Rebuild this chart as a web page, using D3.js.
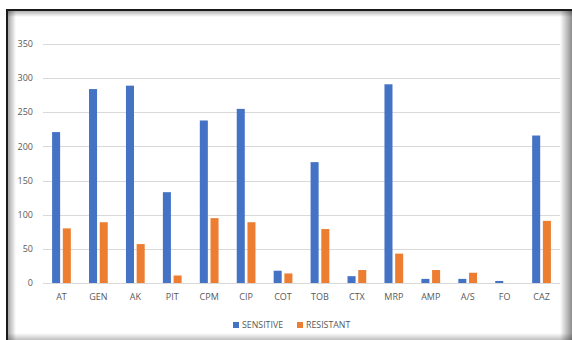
<!DOCTYPE html>
<html>
<head>
<meta charset="utf-8">
<script src="https://cdn.jsdelivr.net/npm/d3@7"></script>
<style>
  html, body { margin: 0; padding: 0; background: #fff; }
  body { width: 572px; height: 340px; overflow: hidden; position: relative; }
  #frame {
    position: absolute; left: 6px; top: 9px; width: 572px; height: 340px;
    border-top: 2px solid #1a1a1a; border-left: 2px solid #1a1a1a;
    box-sizing: border-box;
  }
  svg { position: absolute; left: 0; top: 0; }
</style>
</head>
<body>
<div id="frame"></div>
<svg id="chart" width="572" height="340"></svg>
<script>
// Antibiotic susceptibility counts
const categories = ["AT", "GEN", "AK", "PIT", "CPM", "CIP", "COT", "TOB", "CTX", "MRP", "AMP", "A/S", "FO", "CAZ"];
const sensitive = [221, 284, 289, 133, 238, 255, 18, 177, 10, 291, 6, 6, 3, 216];
const resistant = [80, 89, 57, 11, 95, 89, 14, 79, 19, 43, 19, 15, 0, 91];
const seriesNames = ["SENSITIVE", "RESISTANT"];
const yTicks = [0, 50, 100, 150, 200, 250, 300, 350];

const colors = ["#4472c4", "#ed7d31"];
const textColor = "#595959";
const font = "'Open Sans', sans-serif";

const svg = d3.select("#chart");

// Frame shading
const defs = svg.append("defs");
function grad(id, x1, y1, x2, y2, stops) {
  const g = defs.append("linearGradient").attr("id", id)
    .attr("x1", x1).attr("y1", y1).attr("x2", x2).attr("y2", y2);
  stops.forEach(s => g.append("stop").attr("offset", s[0]).attr("stop-color", "#000").attr("stop-opacity", s[1]));
}
grad("shL", 0, 0, 1, 0, [[0, 0.35], [1, 0]]);
grad("shT", 0, 0, 0, 1, [[0, 0.3], [1, 0]]);
grad("shR", 0, 0, 1, 0, [[0, 0], [1, 0.45]]);
grad("shB", 0, 0, 0, 1, [[0, 0], [1, 0.25]]);
svg.append("rect").attr("x", 8).attr("y", 11).attr("width", 8).attr("height", 329).attr("fill", "url(#shL)");
svg.append("rect").attr("x", 8).attr("y", 11).attr("width", 564).attr("height", 6).attr("fill", "url(#shT)");
svg.append("rect").attr("x", 560).attr("y", 11).attr("width", 12).attr("height", 329).attr("fill", "url(#shR)");
svg.append("rect").attr("x", 8).attr("y", 333).attr("width", 564).attr("height", 7).attr("fill", "url(#shB)");

const plot = { left: 43, right: 560, top: 44, bottom: 283 };

const x = d3.scaleBand().domain(categories).range([plot.left, plot.right]);
const x1 = d3.scaleBand().domain(seriesNames).range([0, x.bandwidth()]).paddingInner(0.25).paddingOuter(0.85);
const y = d3.scaleLinear().domain([0, 350]).range([plot.bottom, plot.top]);

// Gridlines
svg.append("g").selectAll("line").data(yTicks).join("line")
  .attr("x1", plot.left).attr("x2", plot.right)
  .attr("y1", d => Math.round(y(d)) + 0.5).attr("y2", d => Math.round(y(d)) + 0.5)
  .attr("stroke", "#d9d9d9").attr("stroke-width", 1);

// Y axis labels
svg.append("g").selectAll("text").data(yTicks).join("text")
  .attr("x", 33).attr("y", d => y(d)).attr("dy", "0.35em")
  .attr("text-anchor", "end").attr("fill", textColor)
  .style("font-family", font).style("font-size", "9px")
  .text(d => d);

// Bars
const groups = svg.append("g").selectAll("g").data(categories).join("g")
  .attr("transform", d => `translate(${x(d)},0)`);
[sensitive, resistant].forEach((vals, si) => {
  groups.append("rect")
    .attr("x", x1(seriesNames[si]))
    .attr("width", x1.bandwidth())
    .attr("y", (d, i) => y(vals[i]))
    .attr("height", (d, i) => y(0) - y(vals[i]))
    .attr("fill", colors[si]);
});

// Category labels
svg.append("g").selectAll("text").data(categories).join("text")
  .attr("x", d => x(d) + x.bandwidth() / 2).attr("y", 297).attr("dy", "0.35em")
  .attr("text-anchor", "middle").attr("fill", textColor)
  .style("font-family", font).style("font-size", "9px")
  .text(d => d);

// Legend
const legendItems = [{ name: seriesNames[0], x: 233 }, { name: seriesNames[1], x: 297 }];
const lg = svg.append("g").selectAll("g").data(legendItems).join("g")
  .attr("transform", d => `translate(${d.x},325)`);
lg.append("rect").attr("x", 0).attr("y", -3).attr("width", 6).attr("height", 6)
  .attr("fill", (d, i) => colors[i]);
lg.append("text").attr("x", 9).attr("y", 0).attr("dy", "0.35em")
  .attr("fill", textColor).style("font-family", font).style("font-size", "8.8px")
  .text(d => d.name);
</script>
</body>
</html>
